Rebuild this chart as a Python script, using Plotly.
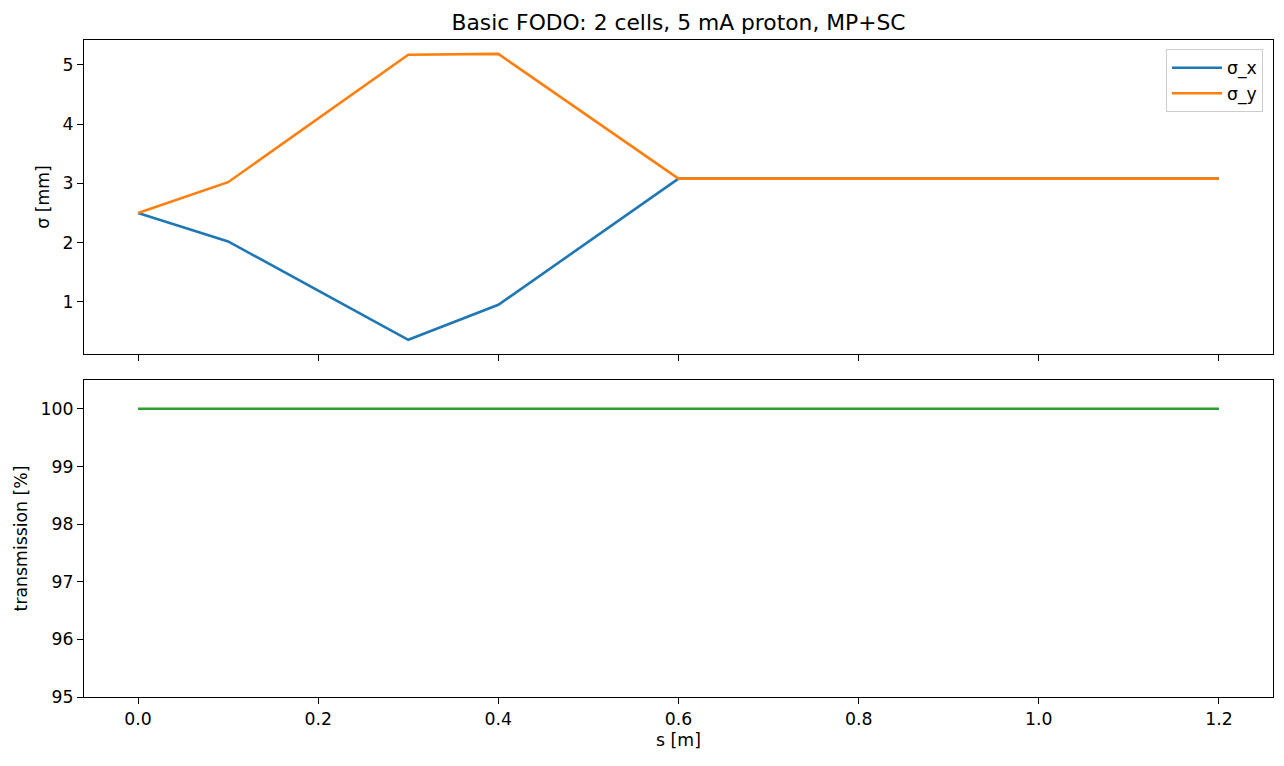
import plotly.graph_objects as go

s = [0.0, 0.1, 0.3, 0.4, 0.6, 1.2]
sigma_x = [2.50, 2.02, 0.36, 0.95, 3.08, 3.08]
sigma_y = [2.50, 3.02, 5.17, 5.185, 3.08, 3.08]
transmission = [100, 100, 100, 100, 100, 100]

FONT = "DejaVu Sans"
FS = 17.3
fig = go.Figure()
fig.add_trace(go.Scatter(x=s, y=sigma_x, mode="lines", name="σ_x",
                         line=dict(color="#1f77b4", width=2.6), xaxis="x", yaxis="y"))
fig.add_trace(go.Scatter(x=s, y=sigma_y, mode="lines", name="σ_y",
                         line=dict(color="#ff7f0e", width=2.6), xaxis="x", yaxis="y"))
fig.add_trace(go.Scatter(x=s, y=transmission, mode="lines", name="transmission",
                         showlegend=False,
                         line=dict(color="#2ca02c", width=2.6), xaxis="x2", yaxis="y2"))

axis_common = dict(showline=True, mirror=True, linecolor="black", linewidth=1.2,
                   ticks="outside", ticklen=6, tickwidth=1.2, tickcolor="black",
                   showgrid=False, zeroline=False,
                   tickfont=dict(family=FONT, size=FS, color="black"))

fig.update_layout(
    width=1284, height=766,
    margin=dict(l=84, r=11, t=40, b=69),
    plot_bgcolor="white", paper_bgcolor="white",
    font=dict(family=FONT, size=FS, color="black"),
    title=dict(text="Basic FODO: 2 cells, 5 mA proton, MP+SC",
               x=(84 + 1273) / 2 / 1284, xanchor="center",
               y=1 - 22 / 766, yanchor="middle", yref="container",
               font=dict(family=FONT, size=21.8, color="black")),
    xaxis=dict(domain=[0, 1], range=[-0.06, 1.26], anchor="y", matches="x2",
               tickvals=[0, 0.2, 0.4, 0.6, 0.8, 1.0, 1.2], showticklabels=False,
               **axis_common),
    yaxis=dict(domain=[(697 - 354) / 657, 1], range=[0.12, 5.42], anchor="x",
               tickvals=[1, 2, 3, 4, 5],
               title=dict(text="σ [mm]", standoff=8, font=dict(family=FONT, size=FS)),
               **axis_common),
    xaxis2=dict(domain=[0, 1], range=[-0.06, 1.26], anchor="y2",
                tickvals=[0, 0.2, 0.4, 0.6, 0.8, 1.0, 1.2],
                ticktext=["0.0", "0.2", "0.4", "0.6", "0.8", "1.0", "1.2"],
                title=dict(text="s [m]", standoff=6, font=dict(family=FONT, size=FS)),
                **axis_common),
    yaxis2=dict(domain=[0, (697 - 380) / 657], range=[95, 100.5], anchor="x2",
                tickvals=[95, 96, 97, 98, 99, 100],
                title=dict(text="transmission [%]", standoff=8, font=dict(family=FONT, size=FS)),
                **axis_common),
    legend=dict(x=(1263 - 84) / 1189, xanchor="right", y=(697 - 49) / 657, yanchor="top",
                bgcolor="rgba(255,255,255,0.8)", bordercolor="#cccccc", borderwidth=1,
                font=dict(family=FONT, size=FS, color="black"),
                tracegroupgap=0, itemwidth=50),
)

fig.write_html("out.html")
